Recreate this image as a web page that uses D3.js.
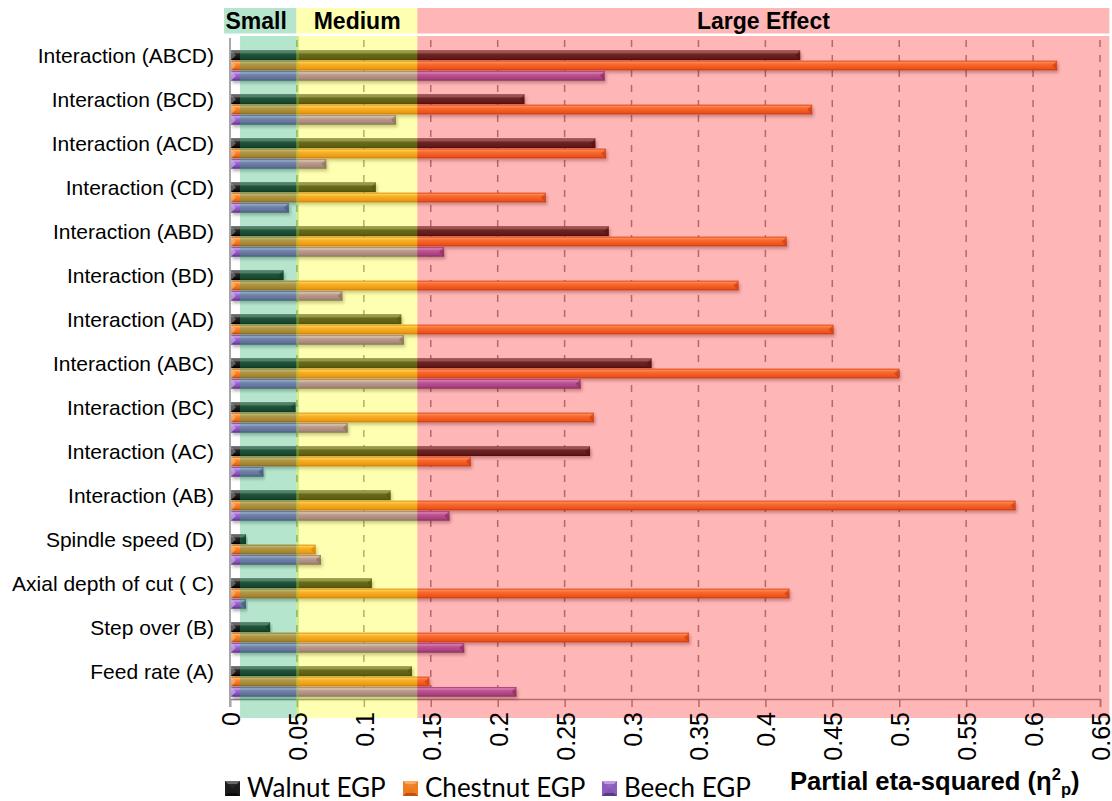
<!DOCTYPE html>
<html>
<head>
<meta charset="utf-8">
<script src="https://cdn.jsdelivr.net/npm/d3@7"></script>
<style>
  body { margin: 0; background: #fff; }
  svg { display: block; }
</style>
</head>
<body>
<svg id="chart" width="1112" height="801"></svg>
<script>
// ---- data -------------------------------------------------------------
const categories = [
  "Interaction (ABCD)", "Interaction (BCD)", "Interaction (ACD)", "Interaction (CD)",
  "Interaction (ABD)", "Interaction (BD)", "Interaction (AD)", "Interaction (ABC)",
  "Interaction (BC)", "Interaction (AC)", "Interaction (AB)", "Spindle speed (D)",
  "Axial depth of cut ( C)", "Step over (B)", "Feed rate (A)"
];
const walnut   = [0.426, 0.220, 0.273, 0.109, 0.283, 0.040, 0.128, 0.315, 0.049, 0.269, 0.120, 0.012, 0.106, 0.030, 0.136];
const chestnut = [0.618, 0.435, 0.281, 0.236, 0.416, 0.380, 0.451, 0.500, 0.272, 0.180, 0.587, 0.064, 0.418, 0.343, 0.149];
const beech    = [0.280, 0.124, 0.072, 0.044, 0.160, 0.084, 0.130, 0.262, 0.088, 0.025, 0.164, 0.068, 0.012, 0.175, 0.214];
const seriesNames = ["Walnut EGP", "Chestnut EGP", "Beech EGP"];
const xTicks = [0, 0.05, 0.1, 0.15, 0.2, 0.25, 0.3, 0.35, 0.4, 0.45, 0.5, 0.55, 0.6, 0.65];
const effectLabels = ["Small", "Medium", "Large Effect"];
const effectFrom   = [0.0075, 0.0495, 0.14];
const effectTo     = [0.0515, 0.14, 0.657];

// ---- layout -----------------------------------------------------------
const svg = d3.select("#chart");
const plotTop = 38, plotBottom = 698, axisY = 699;
const x = d3.scaleLinear().domain([0, 0.65]).range([230, 1100]);
const y = d3.scaleBand().domain(categories).range([plotTop, plotBottom]);
const inner = d3.scaleBand().domain(seriesNames).range([12, 43]);

const series = [
  { name: seriesNames[0], values: walnut,
    stops: [["0%", "#3a3a3a"], ["18%", "#7a7a7a"], ["38%", "#262626"], ["80%", "#121212"], ["100%", "#000000"]],
    dark: "#000", light: "#8a8a8a", base: "#1c1c1c" },
  { name: seriesNames[1], values: chestnut,
    stops: [["0%", "#c4560e"], ["18%", "#ffb466"], ["38%", "#f78a2c"], ["80%", "#e2681a"], ["100%", "#a4420a"]],
    dark: "#9a3a06", light: "#ffc080", base: "#f07c22" },
  { name: seriesNames[2], values: beech,
    stops: [["0%", "#6a3c94"], ["18%", "#cba6f2"], ["38%", "#9a6ccc"], ["80%", "#7c4eae"], ["100%", "#4a2a70"]],
    dark: "#3e2062", light: "#d8b8f8", base: "#8a5cbc" }
];
const bandColors = ["rgba(40,180,110,0.34)", "rgba(255,255,20,0.33)", "rgba(255,40,40,0.34)"];

const defs = svg.append("defs");
series.forEach((s, i) => {
  const g = defs.append("linearGradient").attr("id", "grad" + i)
    .attr("x1", 0).attr("y1", 0).attr("x2", 0).attr("y2", 1);
  s.stops.forEach(([o, c]) => g.append("stop").attr("offset", o).attr("stop-color", c));
});
const shadow = defs.append("filter").attr("id", "barShadow")
  .attr("x", "-5%").attr("y", "-60%").attr("width", "112%").attr("height", "260%");
shadow.append("feDropShadow").attr("dx", 1.5).attr("dy", 2.5)
  .attr("stdDeviation", 1.6).attr("flood-color", "#000").attr("flood-opacity", 0.3);

// ---- gridlines --------------------------------------------------------
svg.append("g").selectAll("line")
  .data(xTicks.filter(t => t > 0))
  .join("line")
  .attr("x1", d => x(d)).attr("x2", d => x(d))
  .attr("y1", plotTop + 2).attr("y2", axisY)
  .attr("stroke", "#8a8a8a").attr("stroke-width", 1.5)
  .attr("stroke-dasharray", "7,8");

// ---- axes -------------------------------------------------------------
const xAxis = d3.axisBottom(x).tickValues(xTicks).tickSize(8).tickFormat("");
const gx = svg.append("g").attr("transform", `translate(0,${axisY})`).call(xAxis);
gx.select(".domain").attr("stroke", "#8c8c8c").attr("stroke-width", 1.5);
gx.selectAll(".tick line").attr("stroke", "#8c8c8c").attr("stroke-width", 1.5);

svg.append("line")
  .attr("x1", x(0)).attr("x2", x(0)).attr("y1", plotTop).attr("y2", axisY + 8)
  .attr("stroke", "#a8a8a8").attr("stroke-width", 2);

// ---- bars -------------------------------------------------------------
const barsG = svg.append("g");
series.forEach((s, i) => {
  const g = barsG.append("g");
  const rows = categories.map((c, k) => ({ c, v: s.values[k] }));
  const h = inner.bandwidth();
  const item = g.selectAll("g").data(rows).join("g")
    .attr("transform", d => `translate(0,${y(d.c) + inner(s.name)})`);
  item.append("rect")
    .attr("x", x(0) + 1).attr("y", 0.3)
    .attr("width", d => x(d.v) - x(0) - 1).attr("height", h - 0.6)
    .attr("fill", `url(#grad${i})`)
    .attr("filter", "url(#barShadow)");
  // bevelled end caps
  item.append("path")
    .attr("d", d => {
      const x1 = x(d.v), e = Math.min(5, (x(d.v) - x(0)) / 2);
      return `M${x1},0.3 L${x1 - e},${h / 2} L${x1},${h - 0.3} Z`;
    })
    .attr("fill", s.dark).attr("opacity", 0.55);
  item.append("path")
    .attr("d", () => {
      const x0 = x(0) + 1;
      return `M${x0},0.3 L${x0 + 5},${h / 2} L${x0},${h - 0.3} Z`;
    })
    .attr("fill", s.light).attr("opacity", 0.6);
});

// ---- effect size overlay bands -----------------------------------------
const bandTop = 36, bandBottom = 718, headTop = 8, headBottom = 33.5;
const bands = effectLabels.map((l, i) => ({ l, from: effectFrom[i], to: effectTo[i], fill: bandColors[i], i }));
svg.append("g").selectAll("rect").data(bands).join("rect")
  .attr("x", d => x(d.from)).attr("y", bandTop)
  .attr("width", d => x(d.to) - x(d.from)).attr("height", bandBottom - bandTop)
  .attr("fill", d => d.fill);

const head = svg.append("g");
head.selectAll("rect").data(bands).join("rect")
  .attr("x", d => d.i === 0 ? x(0) - 6 : x(d.from))
  .attr("y", headTop)
  .attr("width", d => (d.i === 0 ? x(effectFrom[1]) : x(d.to)) - (d.i === 0 ? x(0) - 6 : x(d.from)))
  .attr("height", headBottom - headTop)
  .attr("fill", d => d.fill);
head.selectAll("text").data(bands).join("text")
  .attr("x", d => d.i === 0 ? x(0.0195) : (d.i === 1 ? x(0.095) : (x(d.from) + x(d.to)) / 2))
  .attr("y", 29)
  .attr("text-anchor", "middle")
  .attr("font-family", "Liberation Sans, Arial, sans-serif")
  .attr("font-weight", "bold").attr("font-size", 23)
  .attr("fill", "#000")
  .text(d => d.l);

// ---- tick labels ------------------------------------------------------
svg.append("g").selectAll("text").data(xTicks).join("text")
  .attr("transform", d => `translate(${x(d) + 1},${axisY + 13}) rotate(-90)`)
  .attr("text-anchor", "end")
  .attr("dominant-baseline", "central")
  .attr("font-family", "Liberation Sans, Arial, sans-serif")
  .attr("font-size", 25)
  .attr("fill", "#000")
  .text(d => d3.format("")(d));

// ---- category labels --------------------------------------------------
svg.append("g").selectAll("text").data(categories).join("text")
  .attr("x", 214).attr("y", d => y(d) + 17)
  .attr("text-anchor", "end")
  .attr("dominant-baseline", "central")
  .attr("font-family", "Liberation Sans, Arial, sans-serif")
  .attr("font-size", 21)
  .attr("fill", "#000")
  .text(d => d);

// ---- legend -----------------------------------------------------------
const legendX = [225, 403, 602];
const legend = svg.append("g").attr("transform", "translate(0,781)");
series.forEach((s, i) => {
  const g = legend.append("g").attr("transform", `translate(${legendX[i]},0)`);
  const m = 15;
  g.append("rect").attr("width", m).attr("height", m).attr("fill", s.base);
  g.append("path").attr("d", `M0,0 L${m},0 L${m / 2},${m / 2} Z`).attr("fill", s.light).attr("opacity", 0.7);
  g.append("path").attr("d", `M0,${m} L${m},${m} L${m / 2},${m / 2} Z`).attr("fill", s.dark).attr("opacity", 0.6);
  g.append("rect").attr("x", 3).attr("y", 3).attr("width", m - 6).attr("height", m - 6).attr("fill", s.base).attr("opacity", 0.85);
  g.append("text").attr("x", 22).attr("y", 16)
    .attr("font-family", "Lato, 'Open Sans', sans-serif")
    .attr("font-size", 26)
    .attr("fill", "#000")
    .text(s.name);
});

// ---- axis title -------------------------------------------------------
const title = svg.append("text")
  .attr("x", 790).attr("y", 790)
  .attr("font-family", "Liberation Sans, Arial, sans-serif")
  .attr("font-weight", "bold").attr("font-size", 25.6)
  .attr("fill", "#000");
title.append("tspan").text("Partial eta-squared (η");
title.append("tspan").attr("dy", -10).attr("font-size", 16.5).text("2");
title.append("tspan").attr("dy", 15).attr("font-size", 16.5).text("p");
title.append("tspan").attr("dy", -5).text(")");
</script>
</body>
</html>
